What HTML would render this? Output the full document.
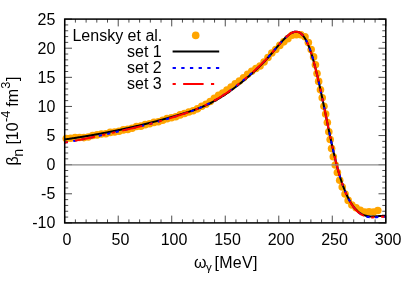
<!DOCTYPE html><html><head><meta charset="utf-8"><title>plot</title><style>html,body{margin:0;padding:0;background:#fff}svg{display:block;will-change:transform}text{font-family:"Liberation Sans",sans-serif;fill:#000}</style></head><body>
<svg width="415" height="291" viewBox="0 0 415 291">
<rect width="415" height="291" fill="#fff"/>
<path d="M64.7 222.9 v-7.3 M64.7 19.1 v7.3 M75.4 222.9 v-3.5 M75.4 19.1 v3.5 M86.11 222.9 v-3.5 M86.11 19.1 v3.5 M96.81 222.9 v-3.5 M96.81 19.1 v3.5 M107.51 222.9 v-3.5 M107.51 19.1 v3.5 M118.22 222.9 v-7.3 M118.22 19.1 v7.3 M128.92 222.9 v-3.5 M128.92 19.1 v3.5 M139.62 222.9 v-3.5 M139.62 19.1 v3.5 M150.33 222.9 v-3.5 M150.33 19.1 v3.5 M161.03 222.9 v-3.5 M161.03 19.1 v3.5 M171.73 222.9 v-7.3 M171.73 19.1 v7.3 M182.44 222.9 v-3.5 M182.44 19.1 v3.5 M193.14 222.9 v-3.5 M193.14 19.1 v3.5 M203.84 222.9 v-3.5 M203.84 19.1 v3.5 M214.55 222.9 v-3.5 M214.55 19.1 v3.5 M225.25 222.9 v-7.3 M225.25 19.1 v7.3 M235.95 222.9 v-3.5 M235.95 19.1 v3.5 M246.66 222.9 v-3.5 M246.66 19.1 v3.5 M257.36 222.9 v-3.5 M257.36 19.1 v3.5 M268.06 222.9 v-3.5 M268.06 19.1 v3.5 M278.77 222.9 v-7.3 M278.77 19.1 v7.3 M289.47 222.9 v-3.5 M289.47 19.1 v3.5 M300.17 222.9 v-3.5 M300.17 19.1 v3.5 M310.88 222.9 v-3.5 M310.88 19.1 v3.5 M321.58 222.9 v-3.5 M321.58 19.1 v3.5 M332.28 222.9 v-7.3 M332.28 19.1 v7.3 M342.99 222.9 v-3.5 M342.99 19.1 v3.5 M353.69 222.9 v-3.5 M353.69 19.1 v3.5 M364.39 222.9 v-3.5 M364.39 19.1 v3.5 M375.1 222.9 v-3.5 M375.1 19.1 v3.5 M385.8 222.9 v-7.3 M385.8 19.1 v7.3 M64.7 222.9 h7.3 M385.8 222.9 h-7.3 M64.7 217.08 h3.5 M385.8 217.08 h-3.5 M64.7 211.25 h3.5 M385.8 211.25 h-3.5 M64.7 205.43 h3.5 M385.8 205.43 h-3.5 M64.7 199.61 h3.5 M385.8 199.61 h-3.5 M64.7 193.79 h7.3 M385.8 193.79 h-7.3 M64.7 187.96 h3.5 M385.8 187.96 h-3.5 M64.7 182.14 h3.5 M385.8 182.14 h-3.5 M64.7 176.32 h3.5 M385.8 176.32 h-3.5 M64.7 170.49 h3.5 M385.8 170.49 h-3.5 M64.7 164.67 h7.3 M385.8 164.67 h-7.3 M64.7 158.85 h3.5 M385.8 158.85 h-3.5 M64.7 153.03 h3.5 M385.8 153.03 h-3.5 M64.7 147.2 h3.5 M385.8 147.2 h-3.5 M64.7 141.38 h3.5 M385.8 141.38 h-3.5 M64.7 135.56 h7.3 M385.8 135.56 h-7.3 M64.7 129.73 h3.5 M385.8 129.73 h-3.5 M64.7 123.91 h3.5 M385.8 123.91 h-3.5 M64.7 118.09 h3.5 M385.8 118.09 h-3.5 M64.7 112.27 h3.5 M385.8 112.27 h-3.5 M64.7 106.44 h7.3 M385.8 106.44 h-7.3 M64.7 100.62 h3.5 M385.8 100.62 h-3.5 M64.7 94.8 h3.5 M385.8 94.8 h-3.5 M64.7 88.97 h3.5 M385.8 88.97 h-3.5 M64.7 83.15 h3.5 M385.8 83.15 h-3.5 M64.7 77.33 h7.3 M385.8 77.33 h-7.3 M64.7 71.51 h3.5 M385.8 71.51 h-3.5 M64.7 65.68 h3.5 M385.8 65.68 h-3.5 M64.7 59.86 h3.5 M385.8 59.86 h-3.5 M64.7 54.04 h3.5 M385.8 54.04 h-3.5 M64.7 48.21 h7.3 M385.8 48.21 h-7.3 M64.7 42.39 h3.5 M385.8 42.39 h-3.5 M64.7 36.57 h3.5 M385.8 36.57 h-3.5 M64.7 30.75 h3.5 M385.8 30.75 h-3.5 M64.7 24.92 h3.5 M385.8 24.92 h-3.5 M64.7 19.1 h7.3 M385.8 19.1 h-7.3" stroke="#000" stroke-width="0.7" fill="none"/>
<clipPath id="c"><rect x="64.7" y="19.1" width="321.1" height="203.8"/></clipPath>
<g fill="#ffa500">
<circle cx="195.7" cy="35.4" r="3.8"/>
<circle cx="66.3" cy="138.47" r="3.8"/>
<circle cx="70.7" cy="138.26" r="3.8"/>
<circle cx="75.1" cy="137.49" r="3.8"/>
<circle cx="79.5" cy="137.46" r="3.8"/>
<circle cx="83.9" cy="137.6" r="3.8"/>
<circle cx="88.3" cy="137.05" r="3.8"/>
<circle cx="92.69" cy="135.47" r="3.8"/>
<circle cx="97.08" cy="134.89" r="3.8"/>
<circle cx="101.47" cy="134" r="3.8"/>
<circle cx="105.86" cy="133.74" r="3.8"/>
<circle cx="110.24" cy="132.4" r="3.8"/>
<circle cx="114.62" cy="132" r="3.8"/>
<circle cx="119" cy="131.3" r="3.8"/>
<circle cx="123.38" cy="129.9" r="3.8"/>
<circle cx="127.76" cy="129.39" r="3.8"/>
<circle cx="132.13" cy="128.27" r="3.8"/>
<circle cx="136.51" cy="126.55" r="3.8"/>
<circle cx="140.88" cy="126.13" r="3.8"/>
<circle cx="145.25" cy="124.67" r="3.8"/>
<circle cx="149.62" cy="123.74" r="3.8"/>
<circle cx="153.98" cy="122.42" r="3.8"/>
<circle cx="158.35" cy="121.73" r="3.8"/>
<circle cx="162.71" cy="120.21" r="3.8"/>
<circle cx="167.07" cy="118.63" r="3.8"/>
<circle cx="171.43" cy="117.82" r="3.8"/>
<circle cx="175.79" cy="116.8" r="3.8"/>
<circle cx="180.14" cy="114.9" r="3.8"/>
<circle cx="184.5" cy="113.43" r="3.8"/>
<circle cx="188.82" cy="111.95" r="3.8"/>
<circle cx="193.14" cy="110.8" r="3.8"/>
<circle cx="197.43" cy="108.85" r="3.8"/>
<circle cx="201.7" cy="106.29" r="3.8"/>
<circle cx="205.95" cy="104.21" r="3.8"/>
<circle cx="210.16" cy="101.53" r="3.8"/>
<circle cx="214.35" cy="98.21" r="3.8"/>
<circle cx="218.56" cy="95.2" r="3.8"/>
<circle cx="222.74" cy="93.07" r="3.8"/>
<circle cx="226.93" cy="90.17" r="3.8"/>
<circle cx="231.09" cy="87" r="3.8"/>
<circle cx="235.23" cy="83.77" r="3.8"/>
<circle cx="239.37" cy="80.93" r="3.8"/>
<circle cx="243.49" cy="77.83" r="3.8"/>
<circle cx="247.59" cy="74.31" r="3.8"/>
<circle cx="251.72" cy="71.23" r="3.8"/>
<circle cx="255.89" cy="68.55" r="3.8"/>
<circle cx="260.03" cy="65.99" r="3.8"/>
<circle cx="264.05" cy="62.02" r="3.8"/>
<circle cx="267.95" cy="57.47" r="3.8"/>
<circle cx="271.79" cy="53.07" r="3.8"/>
<circle cx="275.78" cy="49.48" r="3.8"/>
<circle cx="279.77" cy="45.41" r="3.8"/>
<circle cx="283.81" cy="41.84" r="3.8"/>
<circle cx="287.85" cy="38.64" r="3.8"/>
<circle cx="292.02" cy="35.27" r="3.8"/>
<circle cx="296.38" cy="34.7" r="3.8"/>
<circle cx="300.78" cy="34.69" r="3.8"/>
<circle cx="305" cy="36.75" r="3.8"/>
<circle cx="308.36" cy="42.58" r="3.8"/>
<circle cx="311.17" cy="49.43" r="3.8"/>
<circle cx="313.6" cy="56.92" r="3.8"/>
<circle cx="315.42" cy="64.71" r="3.8"/>
<circle cx="317.02" cy="73.44" r="3.8"/>
<circle cx="318.65" cy="81.38" r="3.8"/>
<circle cx="320.47" cy="89.84" r="3.8"/>
<circle cx="322.24" cy="97.78" r="3.8"/>
<circle cx="323.96" cy="106.19" r="3.8"/>
<circle cx="325.66" cy="114.02" r="3.8"/>
<circle cx="327.35" cy="122.54" r="3.8"/>
<circle cx="328.82" cy="131.87" r="3.8"/>
<circle cx="330.17" cy="139.54" r="3.8"/>
<circle cx="331.57" cy="148.61" r="3.8"/>
<circle cx="333.3" cy="156.81" r="3.8"/>
<circle cx="335.26" cy="164.95" r="3.8"/>
<circle cx="337.38" cy="172.52" r="3.8"/>
<circle cx="339.7" cy="180.31" r="3.8"/>
<circle cx="342.24" cy="187.01" r="3.8"/>
<circle cx="345.05" cy="193.93" r="3.8"/>
<circle cx="348.18" cy="200.4" r="3.8"/>
<circle cx="351.89" cy="205" r="3.8"/>
<circle cx="356.08" cy="207.71" r="3.8"/>
<circle cx="360.29" cy="210.35" r="3.8"/>
<circle cx="364.65" cy="212.04" r="3.8"/>
<circle cx="369.05" cy="211.8" r="3.8"/>
<circle cx="373.44" cy="212.1" r="3.8"/>
<circle cx="377.8" cy="210.55" r="3.8"/>
</g>
<g fill="none" stroke-width="2.0">
<path d="M64.7 139.43 L65.2 139.36 L65.7 139.29 L66.2 139.22 L66.7 139.15 L67.2 139.08 L67.7 139.01 L68.2 138.94 L68.7 138.87 L69.2 138.79 L69.7 138.72 L70.2 138.65 L70.7 138.57 L71.2 138.5 L71.7 138.43 L72.2 138.35 L72.7 138.28 L73.2 138.2 L73.7 138.13 L74.2 138.05 L74.7 137.98 L75.2 137.9 L75.7 137.82 L76.2 137.75 L76.7 137.67 L77.2 137.59 L77.7 137.52 L78.2 137.44 L78.7 137.36 L79.2 137.28 L79.7 137.2 L80.2 137.12 L80.7 137.04 L81.2 136.96 L81.7 136.88 L82.2 136.8 L82.7 136.72 L83.2 136.64 L83.7 136.56 L84.2 136.48 L84.7 136.4 L85.2 136.32 L85.7 136.23 L86.2 136.15 L86.7 136.07 L87.2 135.98 L87.7 135.9 L88.2 135.82 L88.7 135.73 L89.2 135.65 L89.7 135.56 L90.2 135.48 L90.7 135.39 L91.2 135.3 L91.7 135.22 L92.2 135.13 L92.7 135.04 L93.2 134.96 L93.7 134.87 L94.2 134.78 L94.7 134.69 L95.2 134.6 L95.7 134.52 L96.2 134.43 L96.7 134.34 L97.2 134.25 L97.7 134.16 L98.2 134.07 L98.7 133.98 L99.2 133.88 L99.7 133.79 L100.2 133.7 L100.7 133.61 L101.2 133.52 L101.7 133.42 L102.2 133.33 L102.7 133.24 L103.2 133.14 L103.7 133.05 L104.2 132.95 L104.7 132.86 L105.2 132.76 L105.7 132.67 L106.2 132.57 L106.7 132.48 L107.2 132.38 L107.7 132.28 L108.2 132.19 L108.7 132.09 L109.2 131.99 L109.7 131.89 L110.2 131.8 L110.7 131.7 L111.2 131.6 L111.7 131.5 L112.2 131.4 L112.7 131.3 L113.2 131.2 L113.7 131.1 L114.2 131 L114.7 130.89 L115.2 130.79 L115.7 130.69 L116.2 130.59 L116.7 130.48 L117.2 130.38 L117.7 130.28 L118.2 130.17 L118.7 130.07 L119.2 129.96 L119.7 129.86 L120.2 129.75 L120.7 129.65 L121.2 129.54 L121.7 129.44 L122.2 129.33 L122.7 129.22 L123.2 129.12 L123.7 129.01 L124.2 128.9 L124.7 128.79 L125.2 128.68 L125.7 128.57 L126.2 128.46 L126.7 128.35 L127.2 128.24 L127.7 128.13 L128.2 128.02 L128.7 127.91 L129.2 127.8 L129.7 127.69 L130.2 127.58 L130.7 127.46 L131.2 127.35 L131.7 127.24 L132.2 127.12 L132.7 127.01 L133.2 126.89 L133.7 126.78 L134.2 126.66 L134.7 126.55 L135.2 126.43 L135.7 126.32 L136.2 126.2 L136.7 126.08 L137.2 125.97 L137.7 125.85 L138.2 125.73 L138.7 125.61 L139.2 125.49 L139.7 125.37 L140.2 125.25 L140.7 125.13 L141.2 125.01 L141.7 124.89 L142.2 124.77 L142.7 124.65 L143.2 124.53 L143.7 124.41 L144.2 124.28 L144.7 124.16 L145.2 124.04 L145.7 123.92 L146.2 123.79 L146.7 123.67 L147.2 123.54 L147.7 123.42 L148.2 123.29 L148.7 123.17 L149.2 123.04 L149.7 122.91 L150.2 122.79 L150.7 122.66 L151.2 122.53 L151.7 122.4 L152.2 122.28 L152.7 122.15 L153.2 122.02 L153.7 121.89 L154.2 121.76 L154.7 121.63 L155.2 121.5 L155.7 121.37 L156.2 121.24 L156.7 121.1 L157.2 120.97 L157.7 120.84 L158.2 120.71 L158.7 120.57 L159.2 120.44 L159.7 120.31 L160.2 120.17 L160.7 120.04 L161.2 119.9 L161.7 119.77 L162.2 119.63 L162.7 119.49 L163.2 119.36 L163.7 119.22 L164.2 119.08 L164.7 118.94 L165.2 118.81 L165.7 118.67 L166.2 118.53 L166.7 118.39 L167.2 118.25 L167.7 118.11 L168.2 117.97 L168.7 117.83 L169.2 117.69 L169.7 117.54 L170.2 117.4 L170.7 117.26 L171.2 117.12 L171.7 116.97 L172.2 116.83 L172.7 116.68 L173.2 116.54 L173.7 116.4 L174.2 116.25 L174.7 116.1 L175.2 115.96 L175.7 115.81 L176.2 115.66 L176.7 115.52 L177.2 115.37 L177.7 115.22 L178.2 115.07 L178.7 114.92 L179.2 114.78 L179.7 114.63 L180.2 114.48 L180.7 114.33 L181.2 114.17 L181.7 114.02 L182.2 113.87 L182.7 113.72 L183.2 113.56 L183.7 113.41 L184.2 113.26 L184.7 113.1 L185.2 112.95 L185.7 112.79 L186.2 112.63 L186.7 112.47 L187.2 112.31 L187.7 112.15 L188.2 111.99 L188.7 111.83 L189.2 111.66 L189.7 111.5 L190.2 111.33 L190.7 111.17 L191.2 111 L191.7 110.83 L192.2 110.66 L192.7 110.48 L193.2 110.31 L193.7 110.13 L194.2 109.96 L194.7 109.78 L195.2 109.6 L195.7 109.41 L196.2 109.23 L196.7 109.05 L197.2 108.86 L197.7 108.67 L198.2 108.48 L198.7 108.29 L199.2 108.09 L199.7 107.9 L200.2 107.7 L200.7 107.5 L201.2 107.29 L201.7 107.09 L202.2 106.88 L202.7 106.67 L203.2 106.46 L203.7 106.25 L204.2 106.03 L204.7 105.81 L205.2 105.59 L205.7 105.37 L206.2 105.14 L206.7 104.92 L207.2 104.69 L207.7 104.45 L208.2 104.22 L208.7 103.98 L209.2 103.74 L209.7 103.49 L210.2 103.24 L210.7 102.99 L211.2 102.74 L211.7 102.49 L212.2 102.23 L212.7 101.96 L213.2 101.7 L213.7 101.43 L214.2 101.16 L214.7 100.89 L215.2 100.61 L215.7 100.33 L216.2 100.05 L216.7 99.76 L217.2 99.47 L217.7 99.18 L218.2 98.89 L218.7 98.59 L219.2 98.29 L219.7 97.99 L220.2 97.68 L220.7 97.37 L221.2 97.06 L221.7 96.74 L222.2 96.43 L222.7 96.11 L223.2 95.79 L223.7 95.46 L224.2 95.13 L224.7 94.8 L225.2 94.47 L225.7 94.14 L226.2 93.8 L226.7 93.46 L227.2 93.12 L227.7 92.77 L228.2 92.42 L228.7 92.07 L229.2 91.72 L229.7 91.36 L230.2 91.01 L230.7 90.65 L231.2 90.29 L231.7 89.92 L232.2 89.56 L232.7 89.19 L233.2 88.82 L233.7 88.44 L234.2 88.07 L234.7 87.69 L235.2 87.31 L235.7 86.93 L236.2 86.55 L236.7 86.16 L237.2 85.77 L237.7 85.38 L238.2 84.99 L238.7 84.6 L239.2 84.2 L239.7 83.8 L240.2 83.4 L240.7 83 L241.2 82.6 L241.7 82.19 L242.2 81.79 L242.7 81.38 L243.2 80.97 L243.7 80.55 L244.2 80.14 L244.7 79.72 L245.2 79.31 L245.7 78.89 L246.2 78.47 L246.7 78.04 L247.2 77.62 L247.7 77.19 L248.2 76.77 L248.7 76.34 L249.2 75.91 L249.7 75.47 L250.2 75.04 L250.7 74.6 L251.2 74.16 L251.7 73.72 L252.2 73.28 L252.7 72.83 L253.2 72.38 L253.7 71.93 L254.2 71.48 L254.7 71.02 L255.2 70.56 L255.7 70.1 L256.2 69.64 L256.7 69.17 L257.2 68.7 L257.7 68.23 L258.2 67.75 L258.7 67.27 L259.2 66.79 L259.7 66.3 L260.2 65.81 L260.7 65.32 L261.2 64.82 L261.7 64.32 L262.2 63.82 L262.7 63.31 L263.2 62.8 L263.7 62.28 L264.2 61.77 L264.7 61.24 L265.2 60.71 L265.7 60.18 L266.2 59.64 L266.7 59.1 L267.2 58.56 L267.7 58.01 L268.2 57.45 L268.7 56.89 L269.2 56.33 L269.7 55.76 L270.2 55.19 L270.7 54.61 L271.2 54.02 L271.7 53.44 L272.2 52.85 L272.7 52.26 L273.2 51.66 L273.7 51.07 L274.2 50.47 L274.7 49.87 L275.2 49.27 L275.7 48.68 L276.2 48.08 L276.7 47.48 L277.2 46.89 L277.7 46.3 L278.2 45.71 L278.7 45.13 L279.2 44.54 L279.7 43.97 L280.2 43.4 L280.7 42.83 L281.2 42.27 L281.7 41.71 L282.2 41.17 L282.7 40.63 L283.2 40.09 L283.7 39.57 L284.2 39.06 L284.7 38.55 L285.2 38.05 L285.7 37.57 L286.2 37.09 L286.7 36.63 L287.2 36.18 L287.7 35.75 L288.2 35.33 L288.7 34.93 L289.2 34.54 L289.7 34.18 L290.2 33.83 L290.7 33.51 L291.2 33.21 L291.7 32.93 L292.2 32.68 L292.7 32.46 L293.2 32.26 L293.7 32.09 L294.2 31.95 L294.7 31.84 L295.2 31.77 L295.7 31.72 L296.2 31.71 L296.7 31.74 L297.2 31.8 L297.7 31.9 L298.2 32.04 L298.7 32.23 L299.2 32.45 L299.7 32.71 L300.2 33.02 L300.7 33.37 L301.2 33.77 L301.7 34.22 L302.2 34.71 L302.7 35.26 L303.2 35.85 L303.7 36.5 L304.2 37.2 L304.7 37.95 L305.2 38.76 L305.7 39.63 L306.2 40.55 L306.7 41.54 L307.2 42.58 L307.7 43.69 L308.2 44.85 L308.7 46.08 L309.2 47.38 L309.7 48.73 L310.2 50.15 L310.7 51.62 L311.2 53.15 L311.7 54.73 L312.2 56.37 L312.7 58.06 L313.2 59.8 L313.7 61.59 L314.2 63.43 L314.7 65.31 L315.2 67.23 L315.7 69.19 L316.2 71.2 L316.7 73.25 L317.2 75.33 L317.7 77.44 L318.2 79.59 L318.7 81.78 L319.2 83.99 L319.7 86.23 L320.2 88.5 L320.7 90.8 L321.2 93.12 L321.7 95.46 L322.2 97.82 L322.7 100.2 L323.2 102.6 L323.7 105.01 L324.2 107.44 L324.7 109.88 L325.2 112.32 L325.7 114.77 L326.2 117.22 L326.7 119.67 L327.2 122.13 L327.7 124.57 L328.2 127.01 L328.7 129.44 L329.2 131.86 L329.7 134.27 L330.2 136.65 L330.7 139.02 L331.2 141.37 L331.7 143.69 L332.2 145.99 L332.7 148.26 L333.2 150.49 L333.7 152.7 L334.2 154.86 L334.7 156.99 L335.2 159.08 L335.7 161.12 L336.2 163.12 L336.7 165.07 L337.2 166.97 L337.7 168.83 L338.2 170.64 L338.7 172.4 L339.2 174.12 L339.7 175.79 L340.2 177.42 L340.7 179.01 L341.2 180.56 L341.7 182.06 L342.2 183.52 L342.7 184.94 L343.2 186.32 L343.7 187.66 L344.2 188.96 L344.7 190.22 L345.2 191.44 L345.7 192.63 L346.2 193.77 L346.7 194.89 L347.2 195.96 L347.7 197 L348.2 198.01 L348.7 198.98 L349.2 199.92 L349.7 200.82 L350.2 201.7 L350.7 202.54 L351.2 203.34 L351.7 204.12 L352.2 204.87 L352.7 205.59 L353.2 206.28 L353.7 206.94 L354.2 207.57 L354.7 208.18 L355.2 208.75 L355.7 209.31 L356.2 209.83 L356.7 210.33 L357.2 210.81 L357.7 211.26 L358.2 211.69 L358.7 212.1 L359.2 212.48 L359.7 212.84 L360.2 213.18 L360.7 213.5 L361.2 213.81 L361.7 214.09 L362.2 214.35 L362.7 214.59 L363.2 214.82 L363.7 215.03 L364.2 215.22 L364.7 215.39 L365.2 215.56 L365.7 215.7 L366.2 215.83 L366.7 215.95 L367.2 216.05 L367.7 216.15 L368.2 216.22 L368.7 216.29 L369.2 216.35 L369.7 216.4 L370.2 216.43 L370.7 216.46 L371.2 216.48 L371.7 216.49 L372.2 216.49 L372.7 216.49 L373.2 216.48 L373.7 216.46 L374.2 216.44 L374.7 216.42 L375.2 216.39 L375.7 216.35 L376.2 216.32 L376.7 216.28 L377.2 216.24 L377.7 216.19 L378.2 216.15 L378.7 216.11 L379.2 216.06 L379.7 216.02 L380.2 215.98 L380.7 215.94 L381.2 215.91 L381.7 215.88 L382.2 215.85 L382.7 215.82 L383.2 215.81 L383.7 215.79 L384.2 215.78 L384.7 215.78 L385.2 215.79 L385.7 215.8" stroke="#000"/>
<path d="M172.6 51.6 H219.2" stroke="#000"/>
<path d="M64.7 142.63 L65.2 142.55 L65.7 142.46 L66.2 142.37 L66.7 142.28 L67.2 142.19 L67.7 142.1 L68.2 142.01 L68.7 141.92 L69.2 141.82 L69.7 141.73 L70.2 141.64 L70.7 141.55 L71.2 141.46 L71.7 141.36 L72.2 141.27 L72.7 141.18 L73.2 141.08 L73.7 140.99 L74.2 140.9 L74.7 140.8 L75.2 140.71 L75.7 140.61 L76.2 140.52 L76.7 140.42 L77.2 140.32 L77.7 140.23 L78.2 140.13 L78.7 140.03 L79.2 139.94 L79.7 139.84 L80.2 139.74 L80.7 139.64 L81.2 139.55 L81.7 139.45 L82.2 139.35 L82.7 139.25 L83.2 139.15 L83.7 139.05 L84.2 138.95 L84.7 138.85 L85.2 138.75 L85.7 138.64 L86.2 138.54 L86.7 138.44 L87.2 138.34 L87.7 138.24 L88.2 138.13 L88.7 138.03 L89.2 137.93 L89.7 137.82 L90.2 137.72 L90.7 137.61 L91.2 137.51 L91.7 137.4 L92.2 137.3 L92.7 137.19 L93.2 137.08 L93.7 136.98 L94.2 136.87 L94.7 136.76 L95.2 136.65 L95.7 136.55 L96.2 136.44 L96.7 136.33 L97.2 136.22 L97.7 136.11 L98.2 136 L98.7 135.89 L99.2 135.78 L99.7 135.67 L100.2 135.56 L100.7 135.45 L101.2 135.34 L101.7 135.22 L102.2 135.11 L102.7 135 L103.2 134.89 L103.7 134.78 L104.2 134.67 L104.7 134.55 L105.2 134.44 L105.7 134.33 L106.2 134.22 L106.7 134.11 L107.2 134 L107.7 133.88 L108.2 133.77 L108.7 133.66 L109.2 133.54 L109.7 133.43 L110.2 133.31 L110.7 133.2 L111.2 133.08 L111.7 132.97 L112.2 132.85 L112.7 132.73 L113.2 132.62 L113.7 132.5 L114.2 132.38 L114.7 132.27 L115.2 132.15 L115.7 132.03 L116.2 131.91 L116.7 131.79 L117.2 131.67 L117.7 131.55 L118.2 131.43 L118.7 131.31 L119.2 131.19 L119.7 131.07 L120.2 130.95 L120.7 130.85 L121.2 130.74 L121.7 130.63 L122.2 130.52 L122.7 130.41 L123.2 130.3 L123.7 130.19 L124.2 130.08 L124.7 129.97 L125.2 129.86 L125.7 129.75 L126.2 129.64 L126.7 129.53 L127.2 129.42 L127.7 129.31 L128.2 129.19 L128.7 129.08 L129.2 128.97 L129.7 128.85 L130.2 128.74 L130.7 128.62 L131.2 128.51 L131.7 128.39 L132.2 128.28 L132.7 128.16 L133.2 128.05 L133.7 127.93 L134.2 127.81 L134.7 127.7 L135.2 127.58 L135.7 127.46 L136.2 127.34 L136.7 127.22 L137.2 127.1 L137.7 126.98 L138.2 126.86 L138.7 126.74 L139.2 126.62 L139.7 126.5 L140.2 126.38 L140.7 126.26 L141.2 126.14 L141.7 126.02 L142.2 125.89 L142.7 125.77 L143.2 125.65 L143.7 125.52 L144.2 125.4 L144.7 125.27 L145.2 125.15 L145.7 125.02 L146.2 124.9 L146.7 124.77 L147.2 124.65 L147.7 124.52 L148.2 124.39 L148.7 124.25 L149.2 124.12 L149.7 123.98 L150.2 123.85 L150.7 123.71 L151.2 123.57 L151.7 123.44 L152.2 123.3 L152.7 123.16 L153.2 123.02 L153.7 122.88 L154.2 122.75 L154.7 122.61 L155.2 122.47 L155.7 122.33 L156.2 122.19 L156.7 122.05 L157.2 121.9 L157.7 121.76 L158.2 121.62 L158.7 121.48 L159.2 121.34 L159.7 121.19 L160.2 121.05 L160.7 120.9 L161.2 120.76 L161.7 120.62 L162.2 120.47 L162.7 120.33 L163.2 120.18 L163.7 120.03 L164.2 119.89 L164.7 119.74 L165.2 119.59 L165.7 119.44 L166.2 119.3 L166.7 119.15 L167.2 119 L167.7 118.85 L168.2 118.7 L168.7 118.55 L169.2 118.4 L169.7 118.25 L170.2 118.1 L170.7 117.94 L171.2 117.79 L171.7 117.63 L172.2 117.48 L172.7 117.32 L173.2 117.17 L173.7 117.01 L174.2 116.85 L174.7 116.69 L175.2 116.54 L175.7 116.38 L176.2 116.22 L176.7 116.06 L177.2 115.9 L177.7 115.74 L178.2 115.58 L178.7 115.42 L179.2 115.26 L179.7 115.1 L180.2 114.94 L180.7 114.78 L181.2 114.61 L181.7 114.45 L182.2 114.29 L182.7 114.12 L183.2 113.96 L183.7 113.79 L184.2 113.63 L184.7 113.46 L185.2 113.29 L185.7 113.12 L186.2 112.95 L186.7 112.78 L187.2 112.61 L187.7 112.44 L188.2 112.27 L188.7 112.09 L189.2 111.92 L189.7 111.74 L190.2 111.56 L190.7 111.38 L191.2 111.2 L191.7 111.02 L192.2 110.84 L192.7 110.65 L193.2 110.47 L193.7 110.28 L194.2 110.09 L194.7 109.9 L195.2 109.71 L195.7 109.52 L196.2 109.32 L196.7 109.12 L197.2 108.92 L197.7 108.72 L198.2 108.52 L198.7 108.32 L199.2 108.11 L199.7 107.9 L200.2 107.69 L200.7 107.47 L201.2 107.25 L201.7 107.03 L202.2 106.81 L202.7 106.58 L203.2 106.36 L203.7 106.12 L204.2 105.89 L204.7 105.66 L205.2 105.42 L205.7 105.18 L206.2 104.94 L206.7 104.69 L207.2 104.45 L207.7 104.2 L208.2 103.94 L208.7 103.69 L209.2 103.43 L209.7 103.17 L210.2 102.9 L210.7 102.64 L211.2 102.37 L211.7 102.1 L212.2 101.82 L212.7 101.54 L213.2 101.26 L213.7 100.98 L214.2 100.69 L214.7 100.4 L215.2 100.11 L215.7 99.83 L216.2 99.54 L216.7 99.26 L217.2 98.97 L217.7 98.67 L218.2 98.38 L218.7 98.08 L219.2 97.78 L219.7 97.47 L220.2 97.16 L220.7 96.85 L221.2 96.54 L221.7 96.23 L222.2 95.91 L222.7 95.59 L223.2 95.26 L223.7 94.94 L224.2 94.61 L224.7 94.28 L225.2 93.94 L225.7 93.61 L226.2 93.27 L226.7 92.92 L227.2 92.58 L227.7 92.23 L228.2 91.88 L228.7 91.53 L229.2 91.18 L229.7 90.82 L230.2 90.46 L230.7 90.1 L231.2 89.74 L231.7 89.37 L232.2 89.01 L232.7 88.64 L233.2 88.26 L233.7 87.89 L234.2 87.51 L234.7 87.13 L235.2 86.75 L235.7 86.37 L236.2 85.99 L236.7 85.6 L237.2 85.21 L237.7 84.82 L238.2 84.42 L238.7 84.03 L239.2 83.63 L239.7 83.23 L240.2 82.83 L240.7 82.43 L241.2 82.02 L241.7 81.62 L242.2 81.21 L242.7 80.8 L243.2 80.39 L243.7 79.97 L244.2 79.56 L244.7 79.14 L245.2 78.72 L245.7 78.3 L246.2 77.88 L246.7 77.45 L247.2 77.03 L247.7 76.6 L248.2 76.17 L248.7 75.74 L249.2 75.31 L249.7 74.87 L250.2 74.44 L250.7 74.01 L251.2 73.58 L251.7 73.15 L252.2 72.71 L252.7 72.27 L253.2 71.83 L253.7 71.39 L254.2 70.94 L254.7 70.49 L255.2 70.04 L255.7 69.59 L256.2 69.13 L256.7 68.67 L257.2 68.21 L257.7 67.74 L258.2 67.28 L258.7 66.8 L259.2 66.33 L259.7 65.85 L260.2 65.37 L260.7 64.88 L261.2 64.39 L261.7 63.9 L262.2 63.4 L262.7 62.9 L263.2 62.4 L263.7 61.89 L264.2 61.38 L264.7 60.86 L265.2 60.34 L265.7 59.82 L266.2 59.29 L266.7 58.75 L267.2 58.22 L267.7 57.67 L268.2 57.13 L268.7 56.57 L269.2 56.02 L269.7 55.46 L270.2 54.89 L270.7 54.32 L271.2 53.74 L271.7 53.16 L272.2 52.58 L272.7 52 L273.2 51.41 L273.7 50.82 L274.2 50.23 L274.7 49.64 L275.2 49.05 L275.7 48.46 L276.2 47.87 L276.7 47.28 L277.2 46.7 L277.7 46.11 L278.2 45.53 L278.7 44.96 L279.2 44.38 L279.7 43.81 L280.2 43.25 L280.7 42.69 L281.2 42.14 L281.7 41.59 L282.2 41.05 L282.7 40.52 L283.2 39.99 L283.7 39.48 L284.2 38.97 L284.7 38.47 L285.2 37.98 L285.7 37.5 L286.2 37.04 L286.7 36.58 L287.2 36.14 L287.7 35.71 L288.2 35.3 L288.7 34.91 L289.2 34.53 L289.7 34.17 L290.2 33.83 L290.7 33.51 L291.2 33.21 L291.7 32.93 L292.2 32.68 L292.7 32.46 L293.2 32.26 L293.7 32.09 L294.2 31.95 L294.7 31.84 L295.2 31.77 L295.7 31.72 L296.2 31.71 L296.7 31.74 L297.2 31.8 L297.7 31.9 L298.2 32.04 L298.7 32.23 L299.2 32.45 L299.7 32.71 L300.2 33.02 L300.7 33.37 L301.2 33.77 L301.7 34.22 L302.2 34.71 L302.7 35.26 L303.2 35.85 L303.7 36.5 L304.2 37.2 L304.7 37.95 L305.2 38.76 L305.7 39.63 L306.2 40.55 L306.7 41.54 L307.2 42.58 L307.7 43.69 L308.2 44.85 L308.7 46.08 L309.2 47.38 L309.7 48.73 L310.2 50.15 L310.7 51.62 L311.2 53.15 L311.7 54.73 L312.2 56.37 L312.7 58.06 L313.2 59.8 L313.7 61.59 L314.2 63.43 L314.7 65.31 L315.2 67.23 L315.7 69.19 L316.2 71.2 L316.7 73.25 L317.2 75.33 L317.7 77.44 L318.2 79.59 L318.7 81.78 L319.2 83.99 L319.7 86.23 L320.2 88.5 L320.7 90.8 L321.2 93.12 L321.7 95.46 L322.2 97.82 L322.7 100.2 L323.2 102.6 L323.7 105.01 L324.2 107.44 L324.7 109.88 L325.2 112.32 L325.7 114.77 L326.2 117.22 L326.7 119.67 L327.2 122.13 L327.7 124.57 L328.2 127.01 L328.7 129.44 L329.2 131.86 L329.7 134.27 L330.2 136.65 L330.7 139.02 L331.2 141.37 L331.7 143.69 L332.2 145.99 L332.7 148.26 L333.2 150.49 L333.7 152.7 L334.2 154.86 L334.7 156.99 L335.2 159.08 L335.7 161.12 L336.2 163.12 L336.7 165.07 L337.2 166.97 L337.7 168.83 L338.2 170.64 L338.7 172.4 L339.2 174.12 L339.7 175.79 L340.2 177.43 L340.7 179.03 L341.2 180.59 L341.7 182.1 L342.2 183.57 L342.7 185.01 L343.2 186.4 L343.7 187.75 L344.2 189.06 L344.7 190.34 L345.2 191.57 L345.7 192.77 L346.2 193.93 L346.7 195.05 L347.2 196.14 L347.7 197.2 L348.2 198.21 L348.7 199.2 L349.2 200.15 L349.7 201.07 L350.2 201.95 L350.7 202.8 L351.2 203.62 L351.7 204.41 L352.2 205.18 L352.7 205.91 L353.2 206.61 L353.7 207.28 L354.2 207.93 L354.7 208.54 L355.2 209.13 L355.7 209.7 L356.2 210.24 L356.7 210.75 L357.2 211.24 L357.7 211.7 L358.2 212.15 L358.7 212.56 L359.2 212.96 L359.7 213.34 L360.2 213.69 L360.7 214.03 L361.2 214.35 L361.7 214.64 L362.2 214.92 L362.7 215.18 L363.2 215.42 L363.7 215.65 L364.2 215.86 L364.7 216.05 L365.2 216.23 L365.7 216.39 L366.2 216.54 L366.7 216.67 L367.2 216.79 L367.7 216.9 L368.2 217 L368.7 217.08 L369.2 217.16 L369.7 217.22 L370.2 217.27 L370.7 217.32 L371.2 217.35 L371.7 217.38 L372.2 217.39 L372.7 217.39 L373.2 217.38 L373.7 217.36 L374.2 217.34 L374.7 217.32 L375.2 217.29 L375.7 217.25 L376.2 217.22 L376.7 217.18 L377.2 217.14 L377.7 217.09 L378.2 217.05 L378.7 217.01 L379.2 216.96 L379.7 216.92 L380.2 216.88 L380.7 216.84 L381.2 216.81 L381.7 216.78 L382.2 216.75 L382.7 216.72 L383.2 216.71 L383.7 216.69 L384.2 216.68 L384.7 216.68 L385.2 216.69 L385.7 216.7" stroke="#0000ff" stroke-dasharray="3.3 5.37"/>
<path d="M172.6 67.9 H219.2" stroke="#0000ff" stroke-dasharray="3.3 5.37"/>
<path d="M64.7 142.63 L65.2 142.55 L65.7 142.46 L66.2 142.37 L66.7 142.28 L67.2 142.19 L67.7 142.1 L68.2 142.01 L68.7 141.92 L69.2 141.82 L69.7 141.73 L70.2 141.64 L70.7 141.55 L71.2 141.46 L71.7 141.36 L72.2 141.27 L72.7 141.18 L73.2 141.08 L73.7 140.99 L74.2 140.9 L74.7 140.8 L75.2 140.71 L75.7 140.61 L76.2 140.52 L76.7 140.42 L77.2 140.32 L77.7 140.23 L78.2 140.13 L78.7 140.03 L79.2 139.94 L79.7 139.84 L80.2 139.74 L80.7 139.64 L81.2 139.55 L81.7 139.45 L82.2 139.35 L82.7 139.25 L83.2 139.15 L83.7 139.05 L84.2 138.95 L84.7 138.85 L85.2 138.75 L85.7 138.64 L86.2 138.54 L86.7 138.44 L87.2 138.34 L87.7 138.24 L88.2 138.13 L88.7 138.03 L89.2 137.93 L89.7 137.82 L90.2 137.72 L90.7 137.61 L91.2 137.51 L91.7 137.4 L92.2 137.3 L92.7 137.19 L93.2 137.08 L93.7 136.98 L94.2 136.87 L94.7 136.76 L95.2 136.65 L95.7 136.55 L96.2 136.44 L96.7 136.33 L97.2 136.22 L97.7 136.11 L98.2 136 L98.7 135.89 L99.2 135.78 L99.7 135.67 L100.2 135.56 L100.7 135.45 L101.2 135.34 L101.7 135.22 L102.2 135.11 L102.7 135 L103.2 134.89 L103.7 134.78 L104.2 134.67 L104.7 134.55 L105.2 134.44 L105.7 134.33 L106.2 134.22 L106.7 134.11 L107.2 134 L107.7 133.88 L108.2 133.77 L108.7 133.66 L109.2 133.54 L109.7 133.43 L110.2 133.31 L110.7 133.2 L111.2 133.08 L111.7 132.97 L112.2 132.85 L112.7 132.73 L113.2 132.62 L113.7 132.5 L114.2 132.38 L114.7 132.27 L115.2 132.15 L115.7 132.03 L116.2 131.91 L116.7 131.79 L117.2 131.67 L117.7 131.55 L118.2 131.43 L118.7 131.31 L119.2 131.19 L119.7 131.07 L120.2 130.95 L120.7 130.85 L121.2 130.74 L121.7 130.63 L122.2 130.52 L122.7 130.41 L123.2 130.3 L123.7 130.19 L124.2 130.08 L124.7 129.97 L125.2 129.86 L125.7 129.75 L126.2 129.64 L126.7 129.53 L127.2 129.42 L127.7 129.31 L128.2 129.19 L128.7 129.08 L129.2 128.97 L129.7 128.85 L130.2 128.74 L130.7 128.62 L131.2 128.51 L131.7 128.39 L132.2 128.28 L132.7 128.16 L133.2 128.05 L133.7 127.93 L134.2 127.81 L134.7 127.7 L135.2 127.58 L135.7 127.46 L136.2 127.34 L136.7 127.22 L137.2 127.1 L137.7 126.98 L138.2 126.86 L138.7 126.74 L139.2 126.62 L139.7 126.5 L140.2 126.38 L140.7 126.26 L141.2 126.14 L141.7 126.02 L142.2 125.89 L142.7 125.77 L143.2 125.65 L143.7 125.52 L144.2 125.4 L144.7 125.27 L145.2 125.15 L145.7 125.02 L146.2 124.9 L146.7 124.77 L147.2 124.65 L147.7 124.52 L148.2 124.39 L148.7 124.25 L149.2 124.12 L149.7 123.98 L150.2 123.85 L150.7 123.71 L151.2 123.57 L151.7 123.44 L152.2 123.3 L152.7 123.16 L153.2 123.02 L153.7 122.88 L154.2 122.75 L154.7 122.61 L155.2 122.47 L155.7 122.33 L156.2 122.19 L156.7 122.05 L157.2 121.9 L157.7 121.76 L158.2 121.62 L158.7 121.48 L159.2 121.34 L159.7 121.19 L160.2 121.05 L160.7 120.9 L161.2 120.76 L161.7 120.62 L162.2 120.47 L162.7 120.33 L163.2 120.18 L163.7 120.03 L164.2 119.89 L164.7 119.74 L165.2 119.59 L165.7 119.44 L166.2 119.3 L166.7 119.15 L167.2 119 L167.7 118.85 L168.2 118.7 L168.7 118.55 L169.2 118.4 L169.7 118.25 L170.2 118.1 L170.7 117.94 L171.2 117.79 L171.7 117.63 L172.2 117.48 L172.7 117.32 L173.2 117.17 L173.7 117.01 L174.2 116.85 L174.7 116.69 L175.2 116.54 L175.7 116.38 L176.2 116.22 L176.7 116.06 L177.2 115.9 L177.7 115.74 L178.2 115.58 L178.7 115.42 L179.2 115.26 L179.7 115.1 L180.2 114.94 L180.7 114.78 L181.2 114.61 L181.7 114.45 L182.2 114.29 L182.7 114.12 L183.2 113.96 L183.7 113.79 L184.2 113.63 L184.7 113.46 L185.2 113.29 L185.7 113.12 L186.2 112.95 L186.7 112.78 L187.2 112.61 L187.7 112.44 L188.2 112.27 L188.7 112.09 L189.2 111.92 L189.7 111.74 L190.2 111.56 L190.7 111.38 L191.2 111.2 L191.7 111.02 L192.2 110.84 L192.7 110.65 L193.2 110.47 L193.7 110.28 L194.2 110.09 L194.7 109.9 L195.2 109.71 L195.7 109.52 L196.2 109.32 L196.7 109.12 L197.2 108.92 L197.7 108.72 L198.2 108.52 L198.7 108.32 L199.2 108.11 L199.7 107.9 L200.2 107.69 L200.7 107.47 L201.2 107.25 L201.7 107.03 L202.2 106.81 L202.7 106.58 L203.2 106.36 L203.7 106.12 L204.2 105.89 L204.7 105.66 L205.2 105.42 L205.7 105.18 L206.2 104.94 L206.7 104.69 L207.2 104.45 L207.7 104.2 L208.2 103.94 L208.7 103.69 L209.2 103.43 L209.7 103.17 L210.2 102.9 L210.7 102.64 L211.2 102.37 L211.7 102.1 L212.2 101.82 L212.7 101.54 L213.2 101.26 L213.7 100.98 L214.2 100.69 L214.7 100.4 L215.2 100.11 L215.7 99.83 L216.2 99.54 L216.7 99.26 L217.2 98.97 L217.7 98.67 L218.2 98.38 L218.7 98.08 L219.2 97.78 L219.7 97.47 L220.2 97.16 L220.7 96.85 L221.2 96.54 L221.7 96.23 L222.2 95.91 L222.7 95.59 L223.2 95.26 L223.7 94.94 L224.2 94.61 L224.7 94.28 L225.2 93.94 L225.7 93.61 L226.2 93.27 L226.7 92.92 L227.2 92.58 L227.7 92.23 L228.2 91.88 L228.7 91.53 L229.2 91.18 L229.7 90.82 L230.2 90.46 L230.7 90.1 L231.2 89.74 L231.7 89.37 L232.2 89.01 L232.7 88.64 L233.2 88.26 L233.7 87.89 L234.2 87.51 L234.7 87.13 L235.2 86.75 L235.7 86.37 L236.2 85.99 L236.7 85.6 L237.2 85.21 L237.7 84.82 L238.2 84.42 L238.7 84.03 L239.2 83.63 L239.7 83.23 L240.2 82.83 L240.7 82.43 L241.2 82.02 L241.7 81.62 L242.2 81.21 L242.7 80.8 L243.2 80.39 L243.7 79.97 L244.2 79.56 L244.7 79.14 L245.2 78.72 L245.7 78.3 L246.2 77.88 L246.7 77.45 L247.2 77.03 L247.7 76.6 L248.2 76.17 L248.7 75.74 L249.2 75.31 L249.7 74.87 L250.2 74.44 L250.7 74.01 L251.2 73.58 L251.7 73.15 L252.2 72.71 L252.7 72.27 L253.2 71.83 L253.7 71.39 L254.2 70.94 L254.7 70.49 L255.2 70.04 L255.7 69.59 L256.2 69.13 L256.7 68.67 L257.2 68.21 L257.7 67.74 L258.2 67.28 L258.7 66.8 L259.2 66.33 L259.7 65.85 L260.2 65.37 L260.7 64.88 L261.2 64.39 L261.7 63.9 L262.2 63.4 L262.7 62.9 L263.2 62.4 L263.7 61.89 L264.2 61.38 L264.7 60.86 L265.2 60.34 L265.7 59.82 L266.2 59.29 L266.7 58.75 L267.2 58.22 L267.7 57.67 L268.2 57.13 L268.7 56.57 L269.2 56.02 L269.7 55.46 L270.2 54.89 L270.7 54.32 L271.2 53.74 L271.7 53.16 L272.2 52.58 L272.7 52 L273.2 51.41 L273.7 50.82 L274.2 50.23 L274.7 49.64 L275.2 49.05 L275.7 48.46 L276.2 47.87 L276.7 47.28 L277.2 46.7 L277.7 46.11 L278.2 45.53 L278.7 44.96 L279.2 44.38 L279.7 43.81 L280.2 43.25 L280.7 42.69 L281.2 42.14 L281.7 41.59 L282.2 41.05 L282.7 40.52 L283.2 39.99 L283.7 39.48 L284.2 38.97 L284.7 38.47 L285.2 37.98 L285.7 37.5 L286.2 37.04 L286.7 36.58 L287.2 36.14 L287.7 35.71 L288.2 35.3 L288.7 34.91 L289.2 34.53 L289.7 34.17 L290.2 33.83 L290.7 33.51 L291.2 33.21 L291.7 32.93 L292.2 32.68 L292.7 32.46 L293.2 32.26 L293.7 32.09 L294.2 31.95 L294.7 31.84 L295.2 31.77 L295.7 31.72 L296.2 31.71 L296.7 31.74 L297.2 31.8 L297.7 31.9 L298.2 32.04 L298.7 32.23 L299.2 32.45 L299.7 32.71 L300.2 33.02 L300.7 33.37 L301.2 33.77 L301.7 34.22 L302.2 34.71 L302.7 35.26 L303.2 35.85 L303.7 36.5 L304.2 37.2 L304.7 37.95 L305.2 38.76 L305.7 39.63 L306.2 40.55 L306.7 41.54 L307.2 42.58 L307.7 43.69 L308.2 44.85 L308.7 46.08 L309.2 47.38 L309.7 48.73 L310.2 50.15 L310.7 51.62 L311.2 53.15 L311.7 54.73 L312.2 56.37 L312.7 58.06 L313.2 59.8 L313.7 61.59 L314.2 63.43 L314.7 65.31 L315.2 67.23 L315.7 69.19 L316.2 71.2 L316.7 73.25 L317.2 75.33 L317.7 77.44 L318.2 79.59 L318.7 81.78 L319.2 83.99 L319.7 86.23 L320.2 88.5 L320.7 90.8 L321.2 93.12 L321.7 95.46 L322.2 97.82 L322.7 100.2 L323.2 102.6 L323.7 105.01 L324.2 107.44 L324.7 109.88 L325.2 112.32 L325.7 114.77 L326.2 117.22 L326.7 119.67 L327.2 122.13 L327.7 124.57 L328.2 127.01 L328.7 129.44 L329.2 131.86 L329.7 134.27 L330.2 136.65 L330.7 139.02 L331.2 141.37 L331.7 143.69 L332.2 145.99 L332.7 148.26 L333.2 150.49 L333.7 152.7 L334.2 154.86 L334.7 156.99 L335.2 159.08 L335.7 161.12 L336.2 163.12 L336.7 165.07 L337.2 166.97 L337.7 168.83 L338.2 170.64 L338.7 172.4 L339.2 174.12 L339.7 175.79 L340.2 177.43 L340.7 179.03 L341.2 180.59 L341.7 182.1 L342.2 183.57 L342.7 185.01 L343.2 186.4 L343.7 187.75 L344.2 189.06 L344.7 190.34 L345.2 191.57 L345.7 192.77 L346.2 193.93 L346.7 195.05 L347.2 196.14 L347.7 197.2 L348.2 198.21 L348.7 199.2 L349.2 200.15 L349.7 201.07 L350.2 201.95 L350.7 202.8 L351.2 203.62 L351.7 204.41 L352.2 205.18 L352.7 205.91 L353.2 206.61 L353.7 207.28 L354.2 207.93 L354.7 208.54 L355.2 209.13 L355.7 209.7 L356.2 210.24 L356.7 210.75 L357.2 211.24 L357.7 211.7 L358.2 212.15 L358.7 212.56 L359.2 212.96 L359.7 213.34 L360.2 213.69 L360.7 214.03 L361.2 214.35 L361.7 214.64 L362.2 214.92 L362.7 215.18 L363.2 215.42 L363.7 215.65 L364.2 215.86 L364.7 216.05 L365.2 216.23 L365.7 216.39 L366.2 216.54 L366.7 216.67 L367.2 216.79 L367.7 216.9 L368.2 217 L368.7 217.08 L369.2 217.16 L369.7 217.22 L370.2 217.27 L370.7 217.32 L371.2 217.35 L371.7 217.38 L372.2 217.39 L372.7 217.39 L373.2 217.38 L373.7 217.36 L374.2 217.34 L374.7 217.32 L375.2 217.29 L375.7 217.25 L376.2 217.22 L376.7 217.18 L377.2 217.14 L377.7 217.09 L378.2 217.05 L378.7 217.01 L379.2 216.96 L379.7 216.92 L380.2 216.88 L380.7 216.84 L381.2 216.81 L381.7 216.78 L382.2 216.75 L382.7 216.72 L383.2 216.71 L383.7 216.69 L384.2 216.68 L384.7 216.68 L385.2 216.69 L385.7 216.7" stroke="#ff0000" stroke-dasharray="3.2 7.35 20.45 7.35 3.2 6.75"/>
<path d="M172.6 84 H219.2" stroke="#ff0000" stroke-dasharray="3.2 7.35 20.45 7.35 3.2 6.75"/>
</g>
<path d="M64.7 164.82 H385.8" stroke="#8c8c8c" stroke-width="1.2" fill="none"/>
<rect x="64.7" y="19.1" width="321.1" height="203.8" fill="none" stroke="#000" stroke-width="1.5"/>
<g font-size="16">
<text x="55.3" y="228.4" text-anchor="end">-10</text>
<text x="55.3" y="199.29" text-anchor="end">-5</text>
<text x="55.3" y="170.17" text-anchor="end">0</text>
<text x="55.3" y="141.06" text-anchor="end">5</text>
<text x="55.3" y="111.94" text-anchor="end">10</text>
<text x="55.3" y="82.83" text-anchor="end">15</text>
<text x="55.3" y="53.71" text-anchor="end">20</text>
<text x="55.3" y="24.6" text-anchor="end">25</text>
<text x="67" y="244.8" text-anchor="middle">0</text>
<text x="120.52" y="244.8" text-anchor="middle">50</text>
<text x="174.03" y="244.8" text-anchor="middle">100</text>
<text x="227.55" y="244.8" text-anchor="middle">150</text>
<text x="281.07" y="244.8" text-anchor="middle">200</text>
<text x="334.58" y="244.8" text-anchor="middle">250</text>
<text x="388.1" y="244.8" text-anchor="middle">300</text>
<text x="162.3" y="40.8" text-anchor="end">Lensky et al.</text>
<text x="161.7" y="57" text-anchor="end">set 1</text>
<text x="161.7" y="73.2" text-anchor="end">set 2</text>
<text x="161.7" y="89.4" text-anchor="end">set 3</text>
<text x="194.1" y="267.7">ω</text>
<text x="206.1" y="270.7" font-size="11.6">γ</text>
<text x="214.6" y="267.7" letter-spacing="0.25">[MeV]</text>
<text transform="translate(18.3 165.6) rotate(-90)" font-size="16">β</text>
<text transform="translate(23.3 156.8) rotate(-90)" font-size="14.5">n</text>
<text transform="translate(18.3 144.6) rotate(-90)" font-size="16">[10</text>
<text transform="translate(10 122.1) rotate(-90)" font-size="12.8">-4</text>
<text transform="translate(18.3 106.75) rotate(-90)" font-size="16">fm</text>
<text transform="translate(10 88.8) rotate(-90)" font-size="12.8">3</text>
<text transform="translate(18.3 81.1) rotate(-90)" font-size="16">]</text>
</g>
</svg></body></html>
